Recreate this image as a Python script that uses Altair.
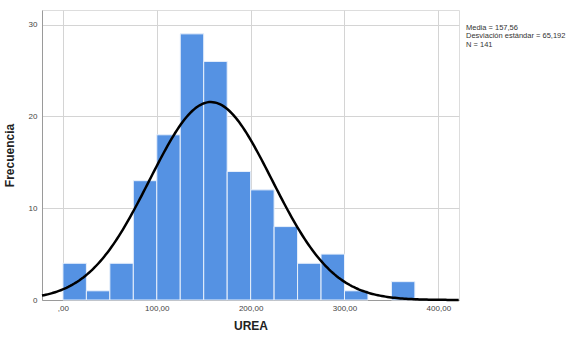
import altair as alt
import pandas as pd
import numpy as np

# Histogram data (bin width 25)
bin_starts = [0, 25, 50, 75, 100, 125, 150, 175, 200, 225, 250, 275, 300, 325, 350]
counts = [4, 1, 4, 13, 18, 29, 26, 14, 12, 8, 4, 5, 1, 0, 2]
bin_width = 25

# Stated statistics
media = 157.56
desv = 65.192
n_total = 141

x_ticks = [0, 100, 200, 300, 400]
y_ticks = [0, 10, 20, 30]
stats_lines = ["Media = 157,56", "Desviación estándar = 65,192", "N = 141"]

x_dom = [-22.3, 422]
y_dom = [0, 31.6]

bars = pd.DataFrame({
    "start": bin_starts,
    "end": [b + bin_width for b in bin_starts],
    "count": counts,
})
bars = bars[bars["count"] > 0]

# Normal curve fitted with the stated mean / sd, scaled to counts
xs = np.arange(x_dom[0], x_dom[1] + 0.5, 2.0)
ys = n_total * bin_width / (desv * np.sqrt(2 * np.pi)) * np.exp(-0.5 * ((xs - media) / desv) ** 2)
curve = pd.DataFrame({"x": xs, "y": ys})

font = "Liberation Sans"

x_scale = alt.Scale(domain=x_dom, nice=False, zero=False)
y_scale = alt.Scale(domain=y_dom, nice=False)

x_axis = alt.Axis(
    values=x_ticks, title="UREA",
    labelExpr="datum.value == 0 ? ',00' : replace(format(datum.value, '.2f'), '.', ',')",
    grid=True, gridColor="#d4d4d4", gridWidth=1,
    ticks=False, labelPadding=4, labelFontSize=8, labelColor="#444444", labelFont=font,
    domainColor="#9a9a9a", domainWidth=1,
    titleFont=font, titleFontSize=12, titleFontWeight="bold", titleColor="#222222", titlePadding=8,
)
y_axis = alt.Axis(
    values=y_ticks, title="Frecuencia",
    grid=True, gridColor="#d4d4d4", gridWidth=1,
    ticks=False, labelPadding=5, labelFontSize=8, labelColor="#444444", labelFont=font,
    domainColor="#9a9a9a", domainWidth=1,
    titleFont=font, titleFontSize=12, titleFontWeight="bold", titleColor="#222222", titlePadding=12,
)

hist = alt.Chart(bars).mark_rect(color="#5592e3", stroke="#e8f0fb", strokeWidth=1).encode(
    x=alt.X("start:Q", scale=x_scale, axis=x_axis),
    x2="end:Q",
    y=alt.Y("count:Q", scale=y_scale, axis=y_axis),
    y2=alt.datum(0),
)

line = alt.Chart(curve).mark_line(color="black", strokeWidth=2.5).encode(
    x=alt.X("x:Q", scale=x_scale),
    y=alt.Y("y:Q", scale=y_scale),
)

texts = []
for i, t in enumerate(stats_lines):
    texts.append(
        alt.Chart(pd.DataFrame({"t": [t]})).mark_text(
            align="left", baseline="middle", fontSize=7.5, font=font, color="#333333"
        ).encode(text="t:N", x=alt.value(424), y=alt.value(17.5 + i * 8.5))
    )

chart = alt.layer(hist, line, *texts).properties(
    width=417, height=290,
    autosize=alt.AutoSizeParams(type="none"),
    padding={"left": 42, "top": 10, "right": 112, "bottom": 38},
).configure_view(stroke=None).configure(background="white")

chart.save("out.html", embed_options={"renderer": "svg", "actions": False})
